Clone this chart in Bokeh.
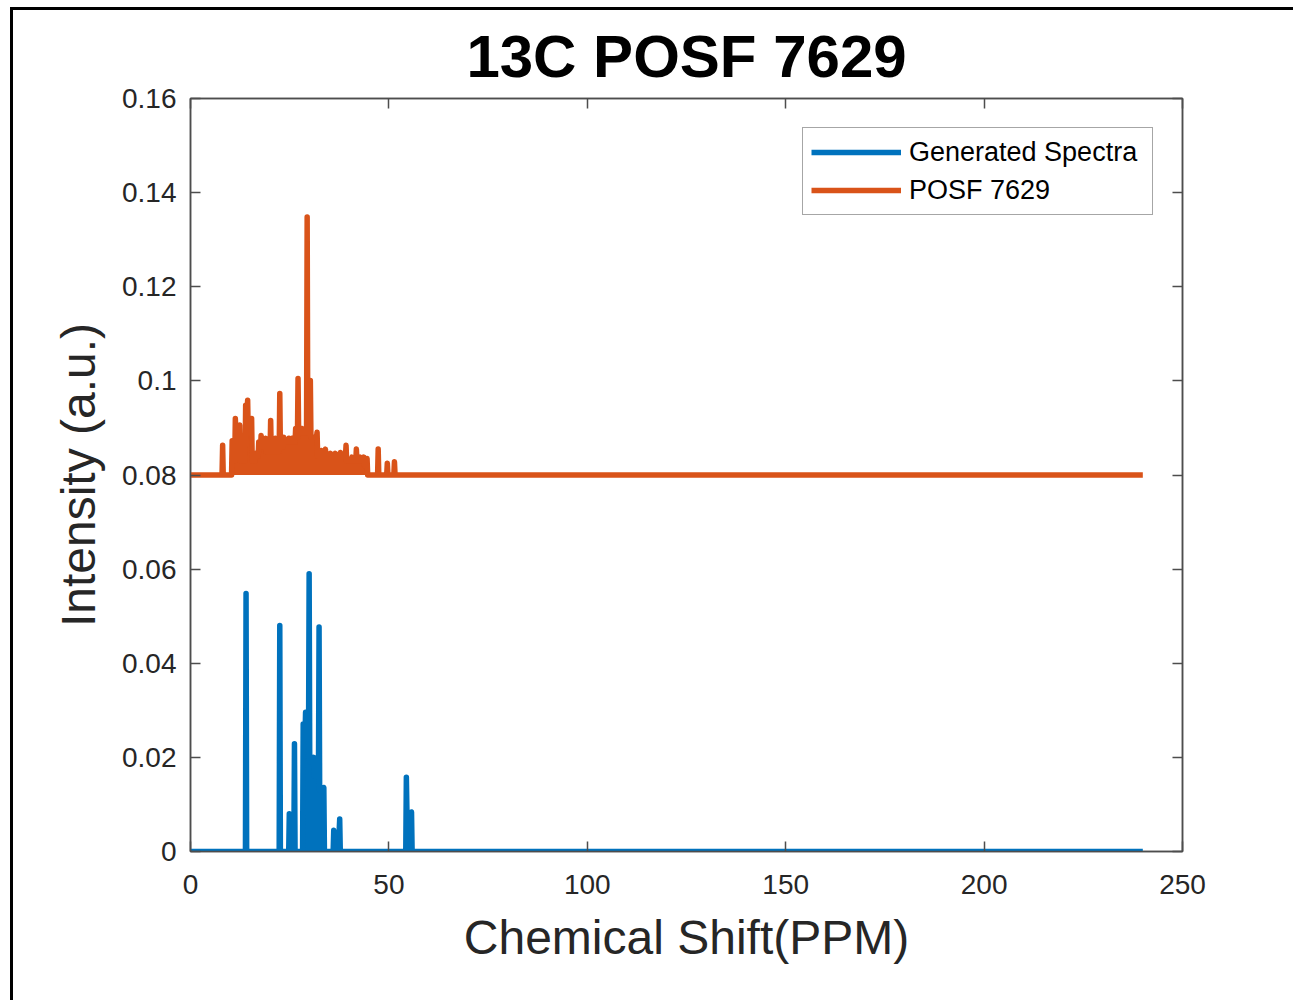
from bokeh.plotting import figure
from bokeh.models import FixedTicker, LinearAxis, Range1d, Legend, LegendItem, Title
from bokeh.embed import file_html
from bokeh.resources import INLINE

# ---- data ----
x_end = 240.0
gen_base = 0.0
posf_base = 0.08

# Generated spectra: peak positions (ppm), peak heights, level after each peak
gen_pos = [14.0, 22.5, 24.9, 26.2, 28.4, 29.0, 29.9, 31.1, 32.4, 33.6, 36.1, 37.6, 54.4, 55.7]
gen_hgt = [0.0548, 0.0480, 0.0080, 0.0229, 0.0271, 0.0296, 0.0590, 0.0200, 0.0477, 0.0136, 0.0045, 0.0069, 0.0158, 0.0084]
gen_val = [0.0, 0.0, 0.001, 0.0, 0.024, 0.024, 0.019, 0.016, 0.013, 0.0, 0.004, 0.0, 0.008, 0.0]

# POSF 7629 (offset by 0.08)
posf_pos = [8.1, 10.5, 11.3, 12.4, 13.9, 14.4, 15.4, 16.4, 17.2, 17.8, 18.9, 20.2, 21.4, 22.5,
            23.5, 24.8, 25.6, 26.5, 27.1, 28.1, 29.4, 30.2, 31.9, 33.0, 34.0, 35.3, 36.5,
            37.8, 39.2, 40.7, 41.8, 42.8, 43.7, 44.5, 47.3, 49.6, 51.4]
posf_hgt = [0.0863, 0.0873, 0.0920, 0.0906, 0.0948, 0.0959, 0.0920, 0.0846, 0.0870, 0.0884,
            0.0878, 0.0916, 0.0878, 0.0973, 0.0880, 0.0878, 0.0878, 0.0899, 0.1005, 0.0899,
            0.1348, 0.1001, 0.0891, 0.0852, 0.0855, 0.0846, 0.0846, 0.0848, 0.0863, 0.0838,
            0.0855, 0.0838, 0.0838, 0.0835, 0.0855, 0.0825, 0.0828]
posf_val = [0.080, 0.083, 0.089, 0.083, 0.093, 0.089, 0.083, 0.084, 0.086, 0.086,
            0.085, 0.085, 0.085, 0.086, 0.087, 0.087, 0.087, 0.088, 0.089, 0.089,
            0.090, 0.088, 0.084, 0.084, 0.084, 0.084, 0.084, 0.084, 0.083, 0.083,
            0.083, 0.083, 0.082, 0.080, 0.080, 0.080, 0.080]

x_ticks = [0, 50, 100, 150, 200, 250]
y_ticks = [0, 0.02, 0.04, 0.06, 0.08, 0.1, 0.12, 0.14, 0.16]
y_tick_labels = ["0", "0.02", "0.04", "0.06", "0.08", "0.1", "0.12", "0.14", "0.16"]

BLUE = "#0072BD"
ORANGE = "#D95319"
FONT = "Liberation Sans"
HW = 0.15  # half width of a stick peak in ppm


def build(base, pos, hgt, val):
    xs, ys = [0.0], [base]
    prev = base
    for p, h, v in zip(pos, hgt, val):
        xs += [p - HW, p, p + HW]
        ys += [prev, h, v]
        prev = v
    xs.append(x_end)
    ys.append(base)
    return xs, ys


gx, gy = build(gen_base, gen_pos, gen_hgt, gen_val)
ox, oy = build(posf_base, posf_pos, posf_hgt, posf_val)

p = figure(width=1280, height=990, output_backend="svg", toolbar_location=None,
           x_range=Range1d(0, 250), y_range=Range1d(0, 0.16),
           min_border_left=177, min_border_right=111, min_border_top=88, min_border_bottom=149,
           frame_width=992, frame_height=753)
p.styles = {"margin-left": "10px", "margin-top": "7px",
            "border-left": "3px solid black", "border-top": "3px solid black"}
p.background_fill_color = "white"
p.border_fill_color = "white"
p.grid.visible = False
p.outline_line_color = "#4d4d4d"
p.outline_line_width = 1.5

p.title = Title(text="13C POSF 7629", align="center", text_font=FONT,
                text_font_size="60px", text_font_style="bold", text_color="black", standoff=18)

# dense regions of the spectra appear filled down to their baselines
p.varea(x=gx, y1=[gen_base] * len(gx), y2=gy, fill_color=BLUE)
p.varea(x=ox, y1=[posf_base] * len(ox), y2=oy, fill_color=ORANGE)
r_gen = p.line(gx, gy, line_color=BLUE, line_width=5.5, line_join="round")
r_posf = p.line(ox, oy, line_color=ORANGE, line_width=5.5, line_join="round")


def style_axis(ax, show_labels):
    ax.axis_line_color = "#4d4d4d"
    ax.axis_line_width = 1.5
    ax.major_tick_line_color = "#4d4d4d"
    ax.major_tick_line_width = 1.5
    ax.major_tick_in = 10
    ax.major_tick_out = 0
    ax.minor_tick_line_color = None
    ax.major_label_text_font = FONT
    ax.major_label_text_font_size = "28px" if show_labels else "0px"
    ax.major_label_text_color = "#262626"
    if not show_labels:
        ax.major_label_text_alpha = 0
        ax.major_label_standoff = 0


xa = p.xaxis[0]
ya = p.yaxis[0]
xa.ticker = FixedTicker(ticks=x_ticks)
ya.ticker = FixedTicker(ticks=y_ticks)
ya.major_label_overrides = {t: l for t, l in zip(y_ticks, y_tick_labels)}
style_axis(xa, True)
style_axis(ya, True)
xa.major_label_standoff = 23
ya.major_label_standoff = 14
xa.axis_label = "Chemical Shift(PPM)"
ya.axis_label = "Intensity (a.u.)"
for ax in (xa, ya):
    ax.axis_label_text_font = FONT
    ax.axis_label_text_font_size = "48px"
    ax.axis_label_text_font_style = "normal"
    ax.axis_label_text_color = "#262626"
xa.axis_label_standoff = 14
ya.axis_label_standoff = 14

top = LinearAxis(ticker=FixedTicker(ticks=x_ticks))
right = LinearAxis(ticker=FixedTicker(ticks=y_ticks))
style_axis(top, False)
style_axis(right, False)
p.add_layout(top, "above")
p.add_layout(right, "right")

legend = Legend(items=[LegendItem(label="Generated Spectra", renderers=[r_gen]),
                       LegendItem(label="POSF 7629", renderers=[r_posf])],
                location="top_right", margin=29, padding=8, spacing=6,
                glyph_width=90, glyph_height=32, label_height=32, label_width=235,
                label_standoff=8, label_text_font=FONT, label_text_font_size="27px",
                label_text_color="black", border_line_color="#4d4d4d", border_line_width=1.5,
                background_fill_color="white", background_fill_alpha=1)
p.add_layout(legend)

open("out.html", "w").write(file_html(p, INLINE))
